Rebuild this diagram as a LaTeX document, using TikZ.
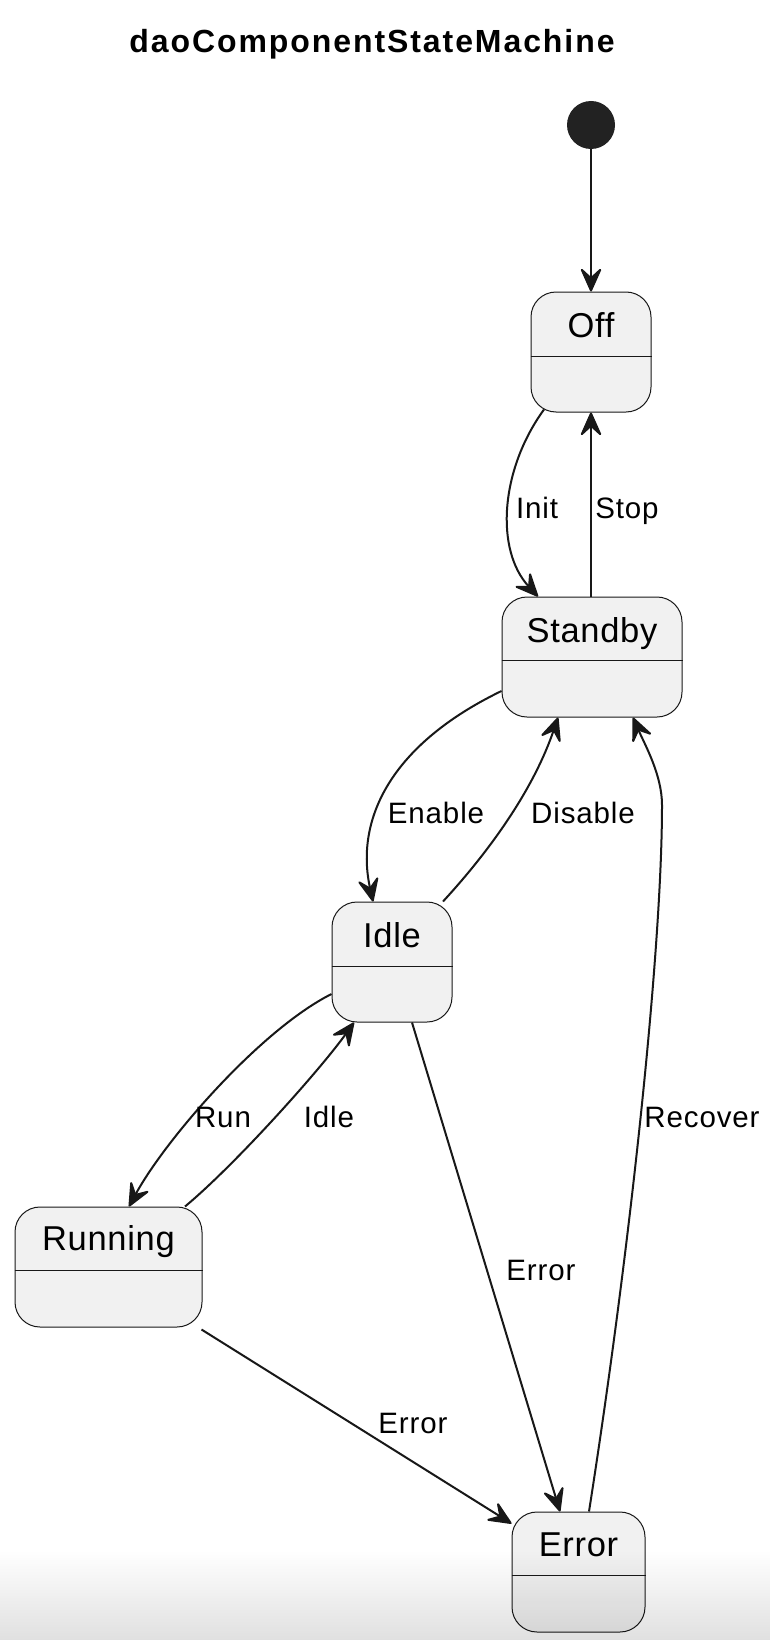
\documentclass[tikz,border=0pt]{standalone}
\usepackage{fontspec}
\setmainfont{Liberation Sans}
\newfontfamily\statefont[LetterSpace=2]{Liberation Sans}
\newfontfamily\lblfont[LetterSpace=3]{Liberation Sans}
\newfontfamily\titlefont[LetterSpace=6]{Liberation Sans}
\usetikzlibrary{arrows.meta,fadings}
\definecolor{stfill}{HTML}{F1F1F1}
\definecolor{stline}{HTML}{181818}
\definecolor{dotc}{HTML}{222222}
\begin{document}
\begin{tikzpicture}[x=1pt,y=-1pt,
  statebox/.style={draw=stline,fill=stfill,line width=1pt,rounded corners=25pt,inner sep=0pt,minimum height=120pt},
  stname/.style={font=\statefont\fontsize{34.5}{40}\selectfont,anchor=base,inner sep=0pt},
  lbl/.style={font=\lblfont\fontsize{29.5}{35}\selectfont,anchor=base,inner sep=0pt},
  tr/.style={draw=stline,line width=2pt,-{Stealth[length=27pt,width=24pt,inset=11pt,round]}},
  divline/.style={draw=stline,line width=1pt}]
\fill[white] (0,0) rectangle (770,1640);
\useasboundingbox (0,0) rectangle (770,1640);

% title
\node[font=\titlefont\bfseries\fontsize{32}{38}\selectfont,anchor=base,inner sep=0pt] (title) at (372,53) {daoComponentStateMachine};

% initial state
\node[circle,fill=dotc,minimum size=48pt,inner sep=0pt] (init) at (591,125) {};

% states
\node[statebox,minimum width=120pt] (off) at (591,352) {};
\node[stname] (offT) at (591,337) {Off};
\draw[divline] (off.west |- 0,356) -- (off.east |- 0,356);

\node[statebox,minimum width=180pt] (standby) at (592,657) {};
\node[stname] (standbyT) at (592,642) {Standby};
\draw[divline] (standby.west |- 0,660) -- (standby.east |- 0,660);

\node[statebox,minimum width=120pt] (idle) at (392,962) {};
\node[stname] (idleT) at (392,947) {Idle};
\draw[divline] (idle.west |- 0,966) -- (idle.east |- 0,966);

\node[statebox,minimum width=187pt] (running) at (108.5,1267) {};
\node[stname] (runningT) at (108.5,1250) {Running};
\draw[divline] (running.west |- 0,1270) -- (running.east |- 0,1270);

\node[statebox,minimum width=133pt] (error) at (578.5,1572) {};
\node[stname] (errorT) at (578.5,1556) {Error};
\draw[divline] (error.west |- 0,1575) -- (error.east |- 0,1575);

\coordinate (rbend) at (662,805);

% transitions
\draw[tr] (init) -- (off);
\draw[tr] ([xshift=-47pt,yshift=3pt]off.south) .. controls (500,470) and (495,550) .. ([xshift=-54pt]standby.north);
\draw[tr] (standby.north -| off.south) -- (off.south);
\draw[tr] ([yshift=-34pt]standby.west) .. controls (390,745) and (355,820) .. ([xshift=-19pt]idle.north);
\draw[tr] ([xshift=51pt]idle.north) .. controls (495,845) and (535,785) .. ([xshift=-34pt]standby.south);
\draw[tr] ([xshift=10.5pt]error.north) .. controls (630,1250) and (662,950) .. (rbend) .. controls (662,775) and (645,745) .. ([xshift=41pt]standby.south);
\draw[tr] ([xshift=20pt]idle.south) -- ([xshift=-18.5pt]error.north);
\draw[tr] ([yshift=-32pt]idle.west) .. controls (260,1030) and (165,1140) .. ([xshift=20.5pt]running.north);
\draw[tr] ([xshift=76.5pt]running.north) .. controls (235,1165) and (320,1070) .. ([xshift=-38pt]idle.south);
\draw[tr] ([xshift=-1pt,yshift=-2pt]running.south east) -- ([yshift=-12pt]error.north west);

% labels
\node[lbl] (lInit) at (537,518) {Init};
\node[lbl] (lStop) at (627,518) {Stop};
\node[lbl] (lEnable) at (436,823) {Enable};
\node[lbl] (lDisable) at (583,823) {Disable};
\node[lbl] (lRecover) at (702,1127) {Recover};
\node[lbl] (lRun) at (223,1127) {Run};
\node[lbl] (lIdle) at (329,1127) {Idle};
\node[lbl] (lErr1) at (541,1280) {Error};
\node[lbl] (lErr2) at (413,1433) {Error};

% bottom fade
\fill[black,fill opacity=0.12,path fading=north] (0,1550) rectangle (770,1640);
\end{tikzpicture}
\end{document}
